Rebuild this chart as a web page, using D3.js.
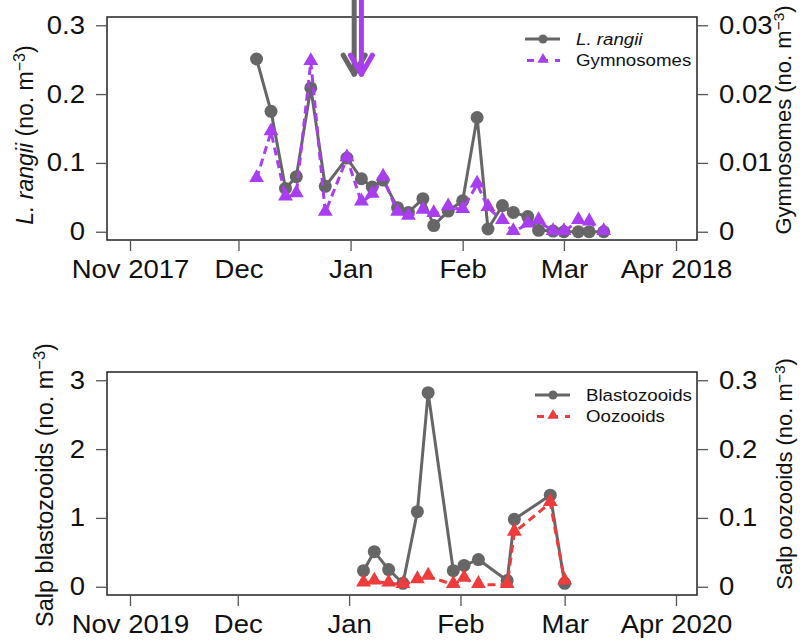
<!DOCTYPE html>
<html>
<head>
<meta charset="utf-8">
<title>L. rangii, gymnosomes and salps</title>
<style>
  body { margin: 0; background: #fff; }
  svg text { font-family: "Liberation Sans", Arial, sans-serif; fill: #111; }
</style>
</head>
<body>
<svg width="805" height="642"></svg>
<script src="https://cdn.jsdelivr.net/npm/d3@7"></script>
<script>

// ---- data ----
var topDates = ["2017-12-06", "2017-12-10", "2017-12-14", "2017-12-17", "2017-12-21", "2017-12-25",
  "2017-12-31", "2018-01-04", "2018-01-07", "2018-01-10", "2018-01-14", "2018-01-17", "2018-01-21",
  "2018-01-24", "2018-01-28", "2018-02-01", "2018-02-05", "2018-02-08", "2018-02-12", "2018-02-15",
  "2018-02-19", "2018-02-22", "2018-02-26", "2018-03-01", "2018-03-05", "2018-03-08", "2018-03-12"];
var rangii = [0.251, 0.175, 0.063, 0.080, 0.209, 0.066, 0.107, 0.077, 0.065, 0.075, 0.035, 0.028, 0.048,
  0.009, 0.030, 0.045, 0.166, 0.004, 0.038, 0.028, 0.022, 0.002, 0.001, 0, 0, 0, 0];
var gymno = [0.0077, 0.0145, 0.0050, 0.0055, 0.0247, 0.0028, 0.0107, 0.0043, 0.0054, 0.0079, 0.0028, 0.0022, 0.0031,
  0.0026, 0.0036, 0.0032, 0.0069, 0.0035, 0.0016, 0, 0.0011, 0.0016, 0, 0, 0.0016, 0.0014, 0];
var arrowDates = ["2018-01-02", "2018-01-04"];   // gray, purple

var botDates = ["2020-01-05", "2020-01-08", "2020-01-12", "2020-01-16", "2020-01-20", "2020-01-23",
  "2020-01-30", "2020-02-02", "2020-02-06", "2020-02-14", "2020-02-16", "2020-02-26", "2020-03-01"];
var blasto = [0.234, 0.51, 0.25, 0.05, 1.09, 2.82, 0.234, 0.31, 0.395, 0.09, 0.98, 1.33, 0.05];
var oozo = [0.005, 0.008, 0.005, 0.003, 0.010, 0.015, 0.003, 0.012, 0.003, 0.003, 0.079, 0.122, 0.008];

var topTicks = ["2017-11-01", "2017-12-01", "2018-01-01", "2018-02-01", "2018-03-01", "2018-04-01"];
var topTickLabels = ["Nov 2017", "Dec", "Jan", "Feb", "Mar", "Apr 2018"];
var botTicks = ["2019-11-01", "2019-12-01", "2020-01-01", "2020-02-01", "2020-03-01", "2020-04-01"];
var botTickLabels = ["Nov 2019", "Dec", "Jan", "Feb", "Mar", "Apr 2020"];

var gray = "#666666", purple = "#a83ef0", red = "#ee3b3b";
var parse = d3.utcParse("%Y-%m-%d");
var svg = d3.select("svg");

var boxL = 107, boxR = 697;
var stretch = "scale(1.1,1)";   // the labels in the original are a bit wide

function styleAxis(sel) {
  sel.select(".domain").remove();
  sel.selectAll("line").attr("stroke", "#555").attr("stroke-width", 1.3);
  sel.selectAll("text").attr("font-size", 25).attr("fill", "#111").attr("transform", stretch);
}

function panel(opt) {
  var g = svg.append("g");
  var x = d3.scaleUtc().domain([parse(opt.ticks[0]), parse(opt.ticks[5])]).range([130, 676]);
  var yl = d3.scaleLinear().domain([-0.04 * opt.lmax, 1.04 * opt.lmax]).range([opt.bottom, opt.top]);
  var yr = d3.scaleLinear().domain([-0.04 * opt.rmax, 1.04 * opt.rmax]).range([opt.bottom, opt.top]);

  // box
  g.append("rect").attr("x", boxL).attr("y", opt.top).attr("width", boxR - boxL).attr("height", opt.bottom - opt.top)
    .attr("fill", "none").attr("stroke", "#222").attr("stroke-width", 1.5);

  // x axis (ticks hang from the box)
  g.append("g").attr("transform", "translate(0," + opt.bottom + ")")
    .call(d3.axisBottom(x).tickValues(opt.ticks.map(parse)).tickSize(11).tickPadding(9)
      .tickFormat(function(d, i) { return opt.tickLabels[i]; }))
    .call(styleAxis);

  g.append("g").attr("transform", "translate(" + boxL + ",0)")
    .call(d3.axisLeft(yl).tickValues(opt.lticks).tickSize(11).tickPadding(9).tickFormat(d3.format("")))
    .call(styleAxis);

  g.append("g").attr("transform", "translate(" + boxR + ",0)")
    .call(d3.axisRight(yr).tickValues(opt.rticks).tickSize(11).tickPadding(9).tickFormat(d3.format("")))
    .call(styleAxis);

  // axis titles
  function title(tx, ty, size, parts) {
    var t = g.append("text").attr("transform", "translate(" + tx + "," + ty + ") rotate(-90)")
      .attr("text-anchor", "middle").attr("font-size", size).attr("fill", "#222");
    parts.forEach(function(p) {
      var s = t.append("tspan").text(p.t);
      if (p.i) s.attr("font-style", "italic");
      if (p.sup) s.attr("font-size", size * 0.7).attr("dy", -size * 0.33);
      if (p.down) s.attr("dy", size * 0.33);
    });
  }
  title(opt.lTitleX, opt.lTitleY, opt.lSize, opt.lTitle);
  title(opt.rTitleX, opt.rTitleY, opt.rSize, opt.rTitle);

  var dates = opt.dates.map(parse);

  // series 1: gray solid with circles
  var l1 = d3.line().x(function(d, i) { return x(dates[i]); }).y(function(d) { return yl(d); });
  g.append("path").datum(opt.s1).attr("d", l1).attr("fill", "none").attr("stroke", gray)
    .attr("stroke-width", 3).attr("stroke-linejoin", "round");
  g.selectAll(".c1").data(opt.s1).enter().append("circle")
    .attr("cx", function(d, i) { return x(dates[i]); }).attr("cy", function(d) { return yl(d); })
    .attr("r", 6.5).attr("fill", gray);

  // series 2: dashed with triangles on the right axis
  var l2 = d3.line().x(function(d, i) { return x(dates[i]); }).y(function(d) { return yr(d); });
  g.append("path").datum(opt.s2).attr("d", l2).attr("fill", "none").attr("stroke", opt.c2)
    .attr("stroke-width", 3).attr("stroke-dasharray", "8,5");
  var tri = d3.symbol().type(d3.symbolTriangle).size(95);
  g.selectAll(".t2").data(opt.s2).enter().append("path").attr("d", tri)
    .attr("transform", function(d, i) { return "translate(" + x(dates[i]) + "," + (yr(d) - 1) + ")"; })
    .attr("fill", opt.c2);

  // legend
  var lg = g.append("g");
  [0, 1].forEach(function(k) {
    var yy = opt.legY + k * 21.5;
    lg.append("line").attr("x1", opt.legX).attr("x2", opt.legX + 35).attr("y1", yy).attr("y2", yy)
      .attr("stroke", k ? opt.c2 : gray).attr("stroke-width", 3).attr("stroke-dasharray", k ? "7,7" : null)
      .attr("stroke-dashoffset", k ? -2 : 0);
    if (k) lg.append("path").attr("d", d3.symbol().type(d3.symbolTriangle).size(55))
      .attr("transform", "translate(" + (opt.legX + 18) + "," + (yy - 1) + ")").attr("fill", opt.c2);
    else lg.append("circle").attr("cx", opt.legX + 18).attr("cy", yy).attr("r", 4.5).attr("fill", gray);
    var t = lg.append("text").attr("transform", "translate(" + (opt.legX + 51) + "," + yy + ") " + stretch)
      .attr("dy", "0.35em").attr("font-size", 17).text(opt.legend[k]);
    if (k === 0 && opt.legItalic) t.attr("font-style", "italic");
  });

  return { x: x, yl: yl, yr: yr, g: g };
}

var p1 = panel({
  top: 17, bottom: 240, ticks: topTicks, tickLabels: topTickLabels,
  lmax: 0.3, rmax: 0.03, lticks: [0, 0.1, 0.2, 0.3], rticks: [0, 0.01, 0.02, 0.03],
  dates: topDates, s1: rangii, s2: gymno, c2: purple,
  lTitle: [{ t: "L. rangii", i: true }, { t: " (no. m" }, { t: "\u22123", sup: true }, { t: ")", down: true }],
  rTitle: [{ t: "Gymnosomes (no. m" }, { t: "\u22123", sup: true }, { t: ")", down: true }],
  lTitleX: 33, lTitleY: 135, lSize: 23, rTitleX: 791, rTitleY: 120, rSize: 22,
  legX: 525, legY: 39, legend: ["L. rangii", "Gymnosomes"], legItalic: true
});

var p2 = panel({
  top: 372, bottom: 595, ticks: botTicks, tickLabels: botTickLabels,
  lmax: 3, rmax: 0.3, lticks: [0, 1, 2, 3], rticks: [0, 0.1, 0.2, 0.3],
  dates: botDates, s1: blasto, s2: oozo, c2: red,
  lTitle: [{ t: "Salp blastozooids (no. m" }, { t: "\u22123", sup: true }, { t: ")", down: true }],
  rTitle: [{ t: "Salp oozooids (no. m" }, { t: "\u22123", sup: true }, { t: ")", down: true }],
  lTitleX: 53, lTitleY: 485, lSize: 23.5, rTitleX: 792, rTitleY: 474, rSize: 22,
  legX: 535, legY: 395, legend: ["Blastozooids", "Oozooids"], legItalic: false
});

// arrows on the top panel
[gray, purple].forEach(function(col, i) {
  var ax = p1.x(parse(arrowDates[i]));
  var y0 = p1.yl(0.345), y1 = p1.yl(0.229);
  var a = p1.g.append("g").attr("stroke", col).attr("stroke-width", 5).attr("fill", "none")
    .attr("stroke-linecap", "round").attr("stroke-linejoin", "round");
  a.append("line").attr("x1", ax).attr("x2", ax).attr("y1", y0).attr("y2", y1);
  a.append("path").attr("d", "M" + (ax - 11) + "," + (y1 - 19) + "L" + ax + "," + y1 + "L" + (ax + 11) + "," + (y1 - 19));
});

</script>
</body>
</html>
